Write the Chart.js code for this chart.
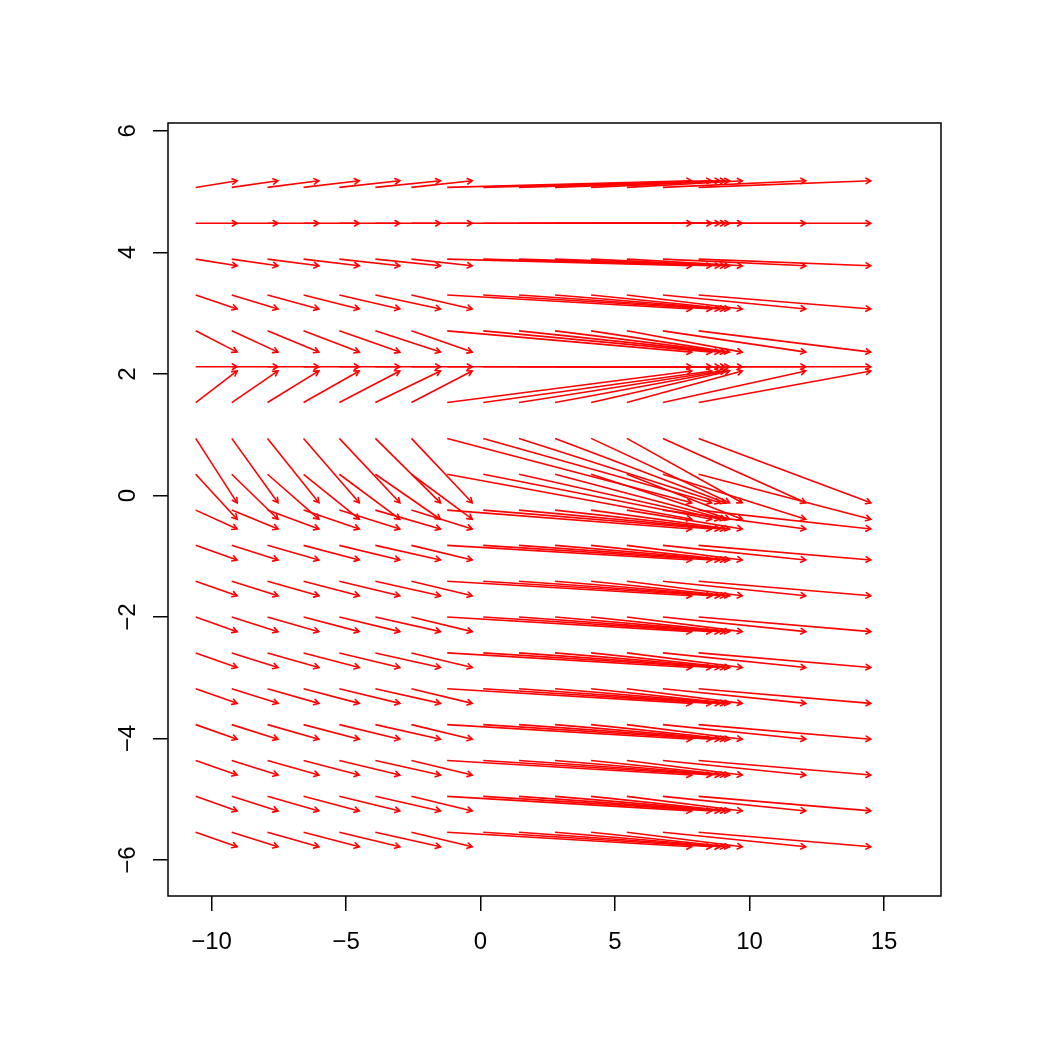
<!DOCTYPE html>
<html>
<head>
<meta charset="utf-8">
<script src="https://cdn.jsdelivr.net/npm/chart.js@4/dist/chart.umd.min.js"></script>
<style>
  html, body { margin: 0; padding: 0; background: #ffffff; }
  #wrap { width: 1050px; height: 1050px; }
</style>
</head>
<body>
<div id="wrap"><canvas id="c" width="1050" height="1050"></canvas></div>
<script>
// Arrow grid: start x per column, end x per column; start y per row, end y per row
const xStart = [-10.59, -9.25, -7.92, -6.58, -5.25, -3.91, -2.57, -1.24, 0.10, 1.43, 2.77, 4.11, 5.44, 6.78, 8.11];
const xEnd   = [-9.05, -7.53, -6.01, -4.51, -3.00, -1.49, -0.31, 7.85, 8.59, 8.90, 9.10, 9.26, 9.73, 12.09, 14.51];
const yStart = [5.07, 4.48, 3.89, 3.30, 2.71, 2.12, 1.53, 0.94, 0.35, -0.24, -0.82, -1.41, -2.00, -2.59, -3.18, -3.77, -4.36, -4.95, -5.54];
const yEnd   = [5.18, 4.48, 3.78, 3.07, 2.36, 2.12, 2.05, -0.12, -0.39, -0.55, -1.06, -1.65, -2.24, -2.83, -3.42, -4.01, -4.60, -5.19, -5.78];
const xTicks = [-10, -5, 0, 5, 10, 15];
const yTicks = [-6, -4, -2, 0, 2, 4, 6];

const RED = '#ff0000';
const FONT = { family: '"Liberation Sans", Arial, Helvetica, sans-serif', size: 24 };

const datasets = [];
for (let r = 0; r < yStart.length; r++) {
  for (let c = 0; c < xStart.length; c++) {
    datasets.push({
      data: [{ x: xStart[c], y: yStart[r] }, { x: xEnd[c], y: yEnd[r] }],
      showLine: true,
      borderColor: RED,
      borderWidth: 1.6,
      pointRadius: 0,
      pointHoverRadius: 0,
      fill: false
    });
  }
}

const fmt = v => (v < 0 ? '\u2212' + Math.abs(v) : String(v));

const arrowHeads = {
  id: 'arrowHeads',
  afterDatasetsDraw(chart) {
    const ctx = chart.ctx;
    ctx.save();
    ctx.strokeStyle = RED;
    ctx.lineWidth = 1.6;
    ctx.lineCap = 'round';
    const L = 5.5, A = Math.PI / 6;
    chart.data.datasets.forEach((ds, i) => {
      const pts = chart.getDatasetMeta(i).data;
      const p0 = pts[0], p1 = pts[1];
      const ang = Math.atan2(p1.y - p0.y, p1.x - p0.x);
      ctx.beginPath();
      ctx.moveTo(p1.x - L * Math.cos(ang - A), p1.y - L * Math.sin(ang - A));
      ctx.lineTo(p1.x, p1.y);
      ctx.lineTo(p1.x - L * Math.cos(ang + A), p1.y - L * Math.sin(ang + A));
      ctx.stroke();
    });
    ctx.restore();
  }
};

const box = {
  id: 'box',
  afterDraw(chart) {
    const a = chart.chartArea, ctx = chart.ctx;
    ctx.save();
    ctx.strokeStyle = '#000';
    ctx.lineWidth = 1.5;
    ctx.strokeRect(a.left, a.top, a.right - a.left, a.bottom - a.top);
    ctx.restore();
  }
};

new Chart(document.getElementById('c'), {
  type: 'scatter',
  data: { datasets },
  options: {
    responsive: false,
    animation: false,
    events: [],
    layout: { padding: { top: 123, right: 109, left: 68, bottom: 74 } },
    plugins: { legend: { display: false }, tooltip: { enabled: false } },
    scales: {
      x: {
        type: 'linear', min: -11.62, max: 17.12,
        afterFit: s => { s.height = 80; },
        afterBuildTicks: s => { s.ticks = xTicks.map(v => ({ value: v })); },
        grid: { drawOnChartArea: false, drawTicks: true, tickLength: 15, color: '#000', lineWidth: 1.5 },
        border: { display: false },
        ticks: { color: '#000', font: FONT, padding: 17, maxRotation: 0, autoSkip: false, callback: v => fmt(v) }
      },
      y: {
        type: 'linear', min: -6.59, max: 6.13,
        afterFit: s => { s.width = 100; },
        afterBuildTicks: s => { s.ticks = yTicks.map(v => ({ value: v })); },
        grid: { drawOnChartArea: false, drawTicks: true, tickLength: 15, color: '#000', lineWidth: 1.5 },
        border: { display: false },
        ticks: { color: '#000', font: FONT, padding: 11, minRotation: 90, maxRotation: 90, crossAlign: 'center', autoSkip: false, callback: v => fmt(v) }
      }
    }
  },
  plugins: [arrowHeads, box]
});
</script>
</body>
</html>
